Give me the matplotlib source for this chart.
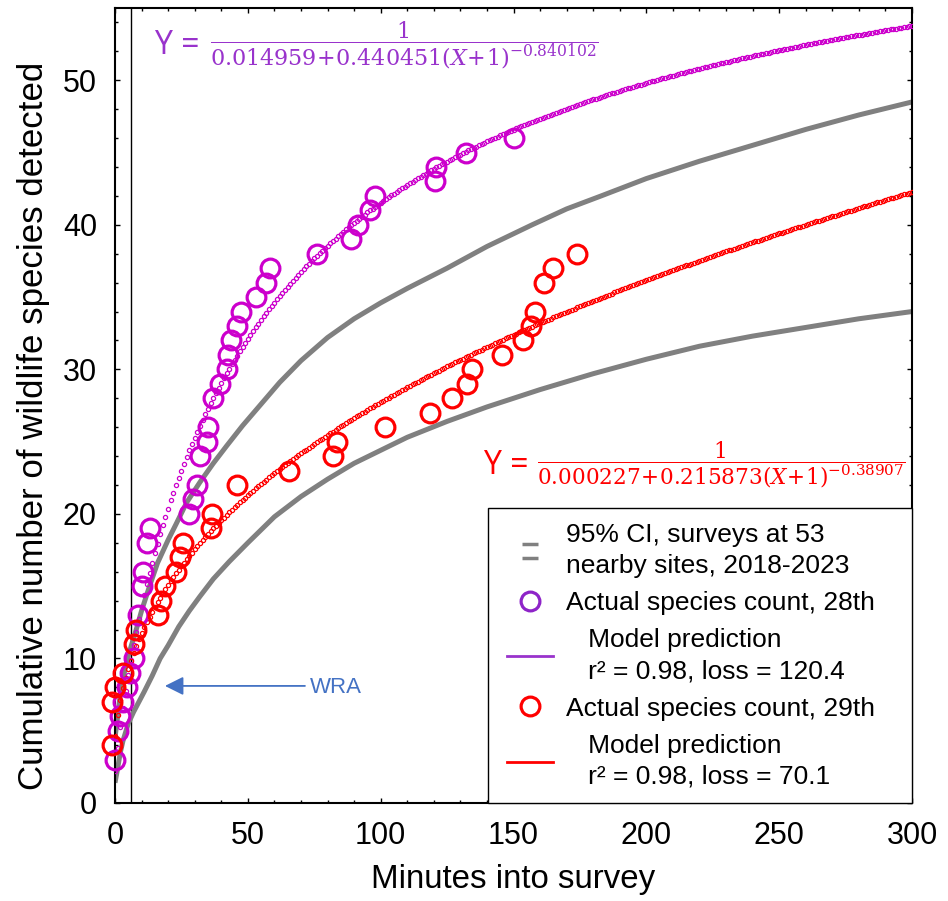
import numpy as np
import matplotlib
matplotlib.use("Agg")
import matplotlib.pyplot as plt
from matplotlib.lines import Line2D
from matplotlib.patches import Rectangle
import matplotlib.path as mpath

plt.rcParams['font.family'] = ['Liberation Sans', 'DejaVu Sans']
plt.rcParams['mathtext.fontset'] = 'dejavuserif'

# ---------------- data ----------------
# observed cumulative species, 28th
purple_x = [0, 1, 2, 3, 4.5, 5.5, 7, 8.7, 10, 10.7, 12, 13, 28, 29.5, 31, 32, 34.5, 35, 37, 39.5,
            42, 42.5, 43.5, 46, 47.5, 53, 57, 58.5, 76, 89, 91.5, 96, 98, 120.5, 121, 132, 150]
purple_y = [3, 5, 6, 7, 8, 9, 10, 13, 15, 16, 18, 19, 20, 21, 22, 24, 25, 26, 28, 29,
            30, 31, 32, 33, 34, 35, 36, 37, 38, 39, 40, 41, 42, 43, 44, 45, 46]
# observed cumulative species, 29th
red_x = [-1, -1, 0, 3, 7, 8, 16, 17.5, 19, 23, 24.5, 25.7, 36, 36.5, 46, 65.5, 82, 83.5, 101.5,
         118.5, 127, 132.5, 134.5, 145.5, 153.5, 156.5, 158, 161.5, 165, 174]
red_y = [4, 7, 8, 9, 11, 12, 13, 14, 15, 16, 17, 18, 19, 20, 22, 23, 24, 25, 26,
         27, 28, 29, 30, 31, 32, 33, 34, 36, 37, 38]

# model parameters shown on the chart: Y = 1 / (a + b (X+1)^-c)
purple_a, purple_b, purple_c = 0.014959, 0.440451, 0.840102
red_a, red_b, red_c = 0.000227, 0.215873, 0.38907
model_minutes = np.arange(0, 301)

# 95% CI band
ci_upper_x = [0, 2, 4, 6, 8, 10, 13, 16, 20, 23, 27, 32, 37, 42, 48, 55, 62, 70, 80, 90, 100,
              110, 125, 140, 157, 170, 183, 200, 220, 240, 260, 280, 300]
ci_upper_y = [4.5, 7.5, 9.5, 10.8, 12.0, 13.3, 15.0, 16.6, 18.2, 19.3, 20.8, 22.2, 23.5, 24.7,
              26.1, 27.6, 29.1, 30.6, 32.2, 33.5, 34.6, 35.6, 37.0, 38.5, 40.0, 41.1, 42.0, 43.2,
              44.4, 45.5, 46.6, 47.6, 48.5]
ci_lower_x = [0, 1, 2, 3, 5, 7, 9, 11, 14, 17, 20, 24, 28, 32, 37, 43, 50, 60, 70, 80, 90, 100,
              110, 125, 140, 160, 180, 200, 220, 240, 260, 280, 300]
ci_lower_y = [1.4, 2.4, 3.5, 4.3, 5.5, 6.3, 7.0, 7.7, 8.8, 10.0, 10.9, 12.2, 13.3, 14.3, 15.5,
              16.7, 18.0, 19.8, 21.2, 22.4, 23.5, 24.4, 25.3, 26.4, 27.4, 28.6, 29.7, 30.7, 31.6,
              32.3, 32.9, 33.5, 34.0]

x_ticks = [0, 50, 100, 150, 200, 250, 300]
y_ticks = [0, 10, 20, 30, 40, 50]

# ---------------- styling ----------------
PURPLE = '#CC00CC'
PURPLE_LEG = '#8E24C8'
PURPLE_TXT = '#9933CC'
RED = '#FF0000'
GRAY = '#808080'
BLUE = '#4472C4'

W, H = 948, 901
fig = plt.figure(figsize=(W / 100, H / 100), dpi=100)
ax = fig.add_axes([115 / W, 1 - 803 / H, (912 - 115) / W, (803 - 8) / H])

# CI band
ax.plot(ci_upper_x, ci_upper_y, color=GRAY, lw=3.6, solid_capstyle='butt', zorder=2)
ax.plot(ci_lower_x, ci_lower_y, color=GRAY, lw=3.6, solid_capstyle='butt', zorder=2)

# model predictions (drawn as small open circles at every minute)
purple_model = 1.0 / (purple_a + purple_b * (model_minutes + 1.0) ** (-purple_c))
red_model = 1.0 / (red_a + red_b * (model_minutes + 1.0) ** (-red_c))
ax.plot(model_minutes, purple_model, ls='none', marker='o', ms=3.0, mfc='none', mec=PURPLE,
        mew=0.9, zorder=3)
ax.plot(model_minutes, red_model, ls='none', marker='o', ms=3.0, mfc='none', mec=RED,
        mew=0.9, zorder=3)

# observed counts
ax.plot(purple_x, purple_y, ls='none', marker='o', ms=13.5, mfc='none', mec=PURPLE, mew=2.3,
        zorder=4, clip_on=False)
ax.plot(red_x, red_y, ls='none', marker='o', ms=13.5, mfc='none', mec=RED, mew=2.3,
        zorder=4, clip_on=False)

# vertical reference line
ax.axvline(6.2, color='black', lw=1.0, zorder=1)

# WRA arrow
ax.annotate('', xy=(18.8, 8.1), xytext=(71.5, 8.1),
            arrowprops=dict(arrowstyle='-|>', color=BLUE, lw=1.3, mutation_scale=28,
                            shrinkA=0, shrinkB=0))
ax.text(73.4, 8.0, 'WRA', color=BLUE, fontsize=16, va='center', ha='left')

# axes
ax.set_xlim(0, 300)
ax.set_ylim(0, 55)
ax.set_xticks(x_ticks)
ax.set_yticks(y_ticks)
ax.set_xticks(np.arange(0, 301, 10), minor=True)
ax.set_yticks(np.arange(0, 56, 2), minor=True)
ax.tick_params(which='both', direction='in', top=True, right=True, width=1.0)
ax.tick_params(which='major', length=3.4, labelsize=22)
ax.tick_params(axis='x', which='major', pad=13)
ax.tick_params(axis='y', which='major', pad=13)
ax.tick_params(which='minor', length=2.0)
for s in ax.spines.values():
    s.set_linewidth(1.5)

ax.set_xlabel('Minutes into survey', fontsize=23.8)
ax.set_ylabel('Cumulative number of wildlife species detected', fontsize=25.1)
ax.xaxis.set_label_coords(0.5, -0.0767)
ax.yaxis.set_label_coords(-0.0816, 0.474)

# formulas
fig.text(155 / W, 1 - 46 / H, 'Y =', color=PURPLE_TXT, fontsize=23, ha='left', va='center',
         family='Open Sans')
fig.text(210 / W, 1 - 45 / H,
         r'$\dfrac{1}{0.014959\!+\!0.440451(X\!+\!1)^{-0.840102}}$',
         color=PURPLE_TXT, fontsize=16, ha='left', va='center')
fig.text(484 / W, 1 - 466 / H, 'Y =', color=RED, fontsize=23, ha='left', va='center',
         family='Open Sans')
fig.text(537 / W, 1 - 465 / H,
         r'$\dfrac{1}{0.000227\!+\!0.215873(X\!+\!1)^{-0.38907}}$',
         color=RED, fontsize=15.6, ha='left', va='center')

# legend frame (fixed box, lower-right corner of the axes)
ax.add_patch(Rectangle(((488 - 115) / 797, 0), 1 - (488 - 115) / 797, (803 - 508) / 795,
                       transform=ax.transAxes, facecolor='white', edgecolor='black', lw=1.0,
                       zorder=5, clip_on=False))

two_dash = mpath.Path([(-1, 0.8), (1, 0.8), (-1, -0.8), (1, -0.8)],
                      [mpath.Path.MOVETO, mpath.Path.LINETO, mpath.Path.MOVETO, mpath.Path.LINETO])
handles = [
    Line2D([], [], ls='none', marker=two_dash, ms=12, mec=GRAY, mew=2.5),
    Line2D([], [], ls='none', marker='o', ms=13.5, mfc='none', mec=PURPLE_LEG, mew=2.3),
    Line2D([], [], color=PURPLE_TXT, lw=2.0),
    Line2D([], [], ls='none', marker='o', ms=13.5, mfc='none', mec=RED, mew=2.3),
    Line2D([], [], color=RED, lw=2.0),
]
ind = '   '
labels = [
    '95% CI, surveys at 53\nnearby sites, 2018-2023',
    'Actual species count, 28th',
    ind + 'Model prediction\n' + ind + 'r² = 0.98, loss = 120.4',
    'Actual species count, 29th',
    ind + 'Model prediction\n' + ind + 'r² = 0.98, loss = 70.1',
]
leg = ax.legend(handles, labels, loc='upper left',
                bbox_to_anchor=(507 / W, 1 - 523 / H), bbox_transform=fig.transFigure,
                borderaxespad=0, borderpad=0, frameon=False, fontsize=19,
                handlelength=1.74, handletextpad=0.49, labelspacing=0.5)
for t in leg.get_texts():
    t.set_linespacing(1.37)
leg.set_zorder(6)

fig.savefig('out.png', dpi=100)
